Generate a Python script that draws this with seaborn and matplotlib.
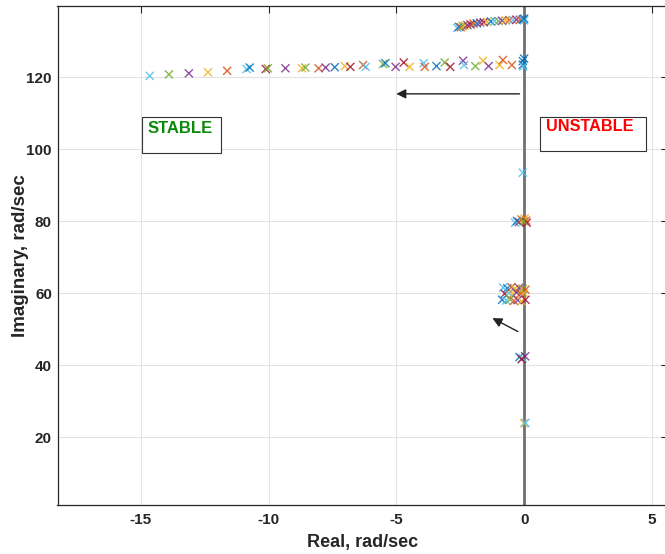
import numpy as np
import pandas as pd
import matplotlib
matplotlib.use("Agg")
import matplotlib.pyplot as plt
import seaborn as sns
from matplotlib.patches import Rectangle

# ---- data ----
# series index -> MATLAB default colour order
band_re = [-14.65, -13.90, -13.12, -12.37, -11.62, -10.86, -10.74, -10.11, -10.03, -9.34,
           -8.69, -8.56, -8.04, -7.77, -7.41, -7.02, -6.80, -6.30, -6.20, -5.52,
           -5.43, -5.03, -4.71, -4.48, -3.93, -3.89, -3.43, -3.11, -2.89, -2.39,
           -2.35, -1.91, -1.61, -1.39, -0.96, -0.83, -0.48, -0.05, -0.05, 0.0, -0.03]
band_im = [120.4, 120.8, 121.1, 121.4, 121.8, 122.3, 122.7, 122.3, 122.5, 122.5,
           122.5, 122.7, 122.5, 122.7, 122.8, 123.1, 122.9, 123.4, 122.9, 123.7,
           123.9, 122.9, 124.1, 122.9, 123.9, 122.9, 123.1, 124.1, 122.9, 124.6,
           123.4, 123.1, 124.6, 123.1, 123.4, 124.8, 123.4, 123.5, 124.5, 125.2, 123.0]
band_ser = [5, 4, 3, 2, 1, 5, 0, 6, 4, 3,
            2, 4, 1, 3, 0, 2, 6, 1, 5, 4,
            0, 3, 6, 2, 5, 1, 0, 4, 6, 3,
            5, 4, 2, 3, 2, 1, 1, 0, 0, 0, 5]

top_re = [-2.62, -2.55, -2.48, -2.40, -2.33, -2.22, -2.10, -1.98, -1.85, -1.72,
          -1.58, -1.45, -1.30, -1.15, -1.00, -0.86, -0.72, -0.58, -0.44, -0.30,
          -0.16, -0.05, 0.0, 0.0]
top_im = [133.7, 134.0, 133.9, 134.2, 134.4, 134.5, 134.7, 134.9, 135.0, 135.2,
          135.3, 135.4, 135.5, 135.6, 135.6, 135.7, 135.8, 135.9, 135.9, 136.0,
          136.0, 136.1, 135.8, 136.3]
top_ser = [5, 0, 1, 4, 2, 3, 6, 1, 0, 3,
           6, 2, 0, 5, 4, 3, 2, 1, 5, 3,
           1, 0, 5, 0]

low_re = [-0.05, -0.35, -0.28, -0.20, -0.10, 0.02, 0.08, 0.10, -0.02,
          -0.82, -0.66, -0.50, -0.35, -0.20, -0.05, 0.05,
          -0.76, -0.60, -0.45, -0.30, -0.15, 0.0,
          -0.86, -0.70, -0.55, -0.40, -0.25, -0.10, 0.05,
          -0.18, -0.06, 0.04, -0.10, 0.0, 0.05]
low_im = [93.5, 79.6, 80.1, 79.8, 80.5, 80.8, 80.2, 79.6, 80.0,
          61.6, 61.4, 61.7, 61.3, 61.5, 61.2, 61.0,
          59.9, 60.1, 59.8, 60.2, 59.9, 60.0,
          58.2, 58.0, 58.3, 57.9, 58.1, 57.8, 58.2,
          42.3, 42.0, 42.5, 41.7, 23.9, 24.0]
low_ser = [5, 5, 0, 3, 1, 2, 1, 6, 4,
           5, 0, 1, 2, 3, 4, 1,
           6, 5, 2, 3, 1, 2,
           0, 5, 4, 1, 3, 2, 6,
           0, 5, 3, 6, 2, 5]

x_ticks = [-15, -10, -5, 0, 5]
y_ticks = [20, 40, 60, 80, 100, 120]
colors = ["#0072BD", "#D95319", "#EDB120", "#7E2F8E", "#77AC30", "#4DBEEE", "#A2142F"]

df = pd.DataFrame({
    "re": band_re + top_re + low_re,
    "im": band_im + top_im + low_im,
    "series": band_ser + top_ser + low_ser,
})

# ---- figure ----
sns.set_style("white")
plt.rcParams["font.family"] = ["Liberation Sans", "DejaVu Sans"]
plt.rcParams["axes.unicode_minus"] = False

W, H = 665, 554
fig = plt.figure(figsize=(W / 100, H / 100), dpi=100)
left_px, right_px, top_px, bottom_px = 57.5, 668, 6, 505
ax = fig.add_axes([left_px / W, 1 - bottom_px / H,
                   (right_px - left_px) / W, (bottom_px - top_px) / H])

ax.set_xlim(-18.26, 5.63)
ax.set_ylim(1.2, 139.8)
ax.set_xticks(x_ticks)
ax.set_yticks(y_ticks)
ax.grid(True, color="#e3e3e3", lw=0.8)
ax.set_axisbelow(True)

ax.axvline(0, color="#707070", lw=2, zorder=1)

sns.scatterplot(data=df, x="re", y="im", hue="series",
                palette={i: c for i, c in enumerate(colors)},
                marker="x", s=34, linewidth=1.0, alpha=0.85,
                legend=False, ax=ax, zorder=3)

# arrows
ax.annotate("", xy=(-5.0, 115.4), xytext=(-0.18, 115.4),
            arrowprops=dict(arrowstyle="-|>", color="#222222", lw=1.0,
                            mutation_scale=14, shrinkA=0, shrinkB=0))
ax.annotate("", xy=(-1.24, 53.1), xytext=(-0.25, 49.4),
            arrowprops=dict(arrowstyle="-|>", color="#222222", lw=1.0,
                            mutation_scale=14, shrinkA=0, shrinkB=0))

# text boxes
ax.add_patch(Rectangle((-14.96, 99.0), 3.09, 10.0, fill=True, facecolor="white",
                       edgecolor="#333333", lw=0.8, zorder=4))
ax.text(-14.72, 105.9, "STABLE", color="#0a8a0a", fontsize=12, fontweight="bold",
        va="center", ha="left", zorder=5)
ax.add_patch(Rectangle((0.61, 99.6), 4.14, 9.4, fill=True, facecolor="white",
                       edgecolor="#333333", lw=0.8, zorder=4))
ax.text(0.87, 106.3, "UNSTABLE", color="#ff0000", fontsize=11.7, fontweight="bold",
        va="center", ha="left", zorder=5)

ax.set_xlabel("Real, rad/sec", fontsize=13, fontweight="bold", color="#262626", labelpad=4.5)
ax.set_ylabel("Imaginary, rad/sec", fontsize=13.5, fontweight="bold", color="#262626", labelpad=-2)
ax.tick_params(direction="in", length=5, width=0.8, top=True, right=True,
               labelsize=11, colors="#262626")
ax.tick_params(axis="y", pad=4)
ax.tick_params(axis="x", pad=6)
for lab in ax.get_xticklabels() + ax.get_yticklabels():
    lab.set_fontweight("bold")
for sp in ax.spines.values():
    sp.set_color("#262626")
    sp.set_linewidth(0.9)

fig.savefig("out.png", dpi=100)
